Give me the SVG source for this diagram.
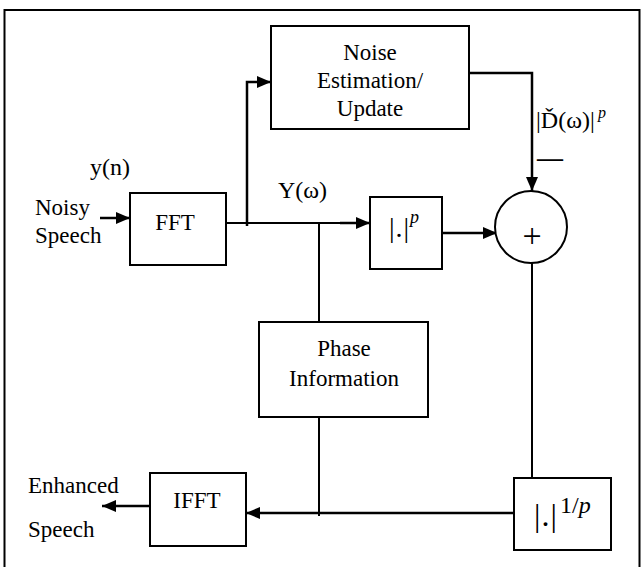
<svg xmlns="http://www.w3.org/2000/svg" width="641" height="567" viewBox="0 0 641 567">
<defs>
<marker id="ah" markerUnits="userSpaceOnUse" viewBox="0 0 14 12" refX="14" refY="6" markerWidth="14" markerHeight="12" orient="auto">
<path d="M0,0 L14,6 L0,12 z" fill="#000"/>
</marker>
<style>
.box{fill:#fff;stroke:#000;stroke-width:2}
.t{font-family:"Liberation Serif","Times New Roman",serif;font-size:23px;fill:#000}
.c{text-anchor:middle}
.ln{fill:none;stroke:#000;stroke-width:2}
.ar{fill:none;stroke:#000;stroke-width:2.5;marker-end:url(#ah)}
.it{font-style:italic}
</style>
</defs>
<rect x="0" y="0" width="641" height="567" fill="#fff"/>
<rect x="4.5" y="10" width="635" height="600" fill="none" stroke="#000" stroke-width="2"/>

<g id="connectors">
<polyline class="ar" points="100,218 130,218"/>
<line class="ln" x1="226" y1="223" x2="356" y2="223" stroke-width="2.5"/>
<polyline class="ar" points="340,223 370,223"/>
<polyline class="ar" points="247,226 247,82 271,82"/>
<polyline class="ar" points="469,73 532,73 532,191"/>
<polyline class="ar" points="436,233 497,233"/>
<line class="ln" x1="319" y1="223" x2="319" y2="322"/>
<line class="ln" x1="319" y1="417" x2="319" y2="516"/>
<line class="ln" x1="532" y1="263" x2="532" y2="478"/>
<polyline class="ar" points="514,513 246,513"/>
<polyline class="ar" points="150,506 102,506"/>
</g>

<g id="noise-estimation">
<rect class="box" x="271" y="26" width="198" height="103"/>
<text class="t c" x="370" y="60">Noise</text>
<text class="t c" x="370" y="88">Estimation/</text>
<text class="t c" x="370" y="116">Update</text>
</g>

<g id="fft">
<rect class="box" x="130" y="193" width="96" height="72"/>
<text class="t c" x="175" y="230">FFT</text>
</g>

<g id="power">
<rect class="box" x="370" y="197" width="72" height="72"/>
<text class="t" x="389" y="237" style="font-size:28px;letter-spacing:1px">|.|</text>
<text class="t it" x="410" y="223" style="font-size:18px">p</text>
</g>

<g id="sum">
<circle cx="531" cy="227" r="36" fill="#fff" stroke="#000" stroke-width="2"/>
<text class="t c" x="532" y="247" style="font-size:34px">+</text>
</g>

<g id="phase">
<rect class="box" x="259" y="322" width="169" height="95"/>
<text class="t c" x="344" y="356">Phase</text>
<text class="t c" x="344" y="386">Information</text>
</g>

<g id="ifft">
<rect class="box" x="150" y="473" width="96" height="73"/>
<text class="t c" x="197" y="508">IFFT</text>
</g>

<g id="root">
<rect class="box" x="514" y="478" width="97" height="72"/>
<text class="t" x="534" y="526" style="font-size:32px;letter-spacing:1px">|.|</text>
<text class="t" x="560" y="513" style="font-size:24px">1/<tspan class="it">p</tspan></text>
</g>

<g id="labels">
<text class="t" x="90" y="175" style="font-size:24px">y(n)</text>
<text class="t" x="35" y="215">Noisy</text>
<text class="t" x="35" y="243">Speech</text>
<text class="t" x="278" y="198" style="font-size:24px">Y(ω)</text>
<text class="t" x="536" y="128" style="font-size:24px">|Ď(ω)|</text>
<text class="t it" x="598" y="118" style="font-size:16px">p</text>
<text class="t" x="537" y="166" style="font-size:26px;font-weight:bold">—</text>
<text class="t" x="28" y="493">Enhanced</text>
<text class="t" x="28" y="537">Speech</text>
</g>
</svg>
